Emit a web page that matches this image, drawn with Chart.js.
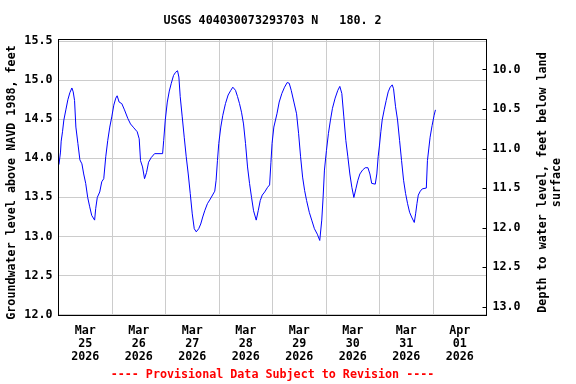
<!DOCTYPE html>
<html>
<head>
<meta charset="utf-8">
<script src="https://cdn.jsdelivr.net/npm/chart.js@4.4.1/dist/chart.umd.min.js"></script>
<style>
html, body { margin: 0; padding: 0; background: #fff; }
</style>
</head>
<body>
<canvas id="gwChart" width="576" height="384"></canvas>
<script>
// hours since Mar 25 2026 00:00
const hours = [
  0.2, 0.9, 1.2, 1.8, 2.4, 3.3, 4.2, 5.1, 6.0, 6.6, 7.2, 7.8, 8.7, 9.6, 10.5, 11.3, 12.2, 13.1, 14.0, 14.9,
  16.2, 16.7, 17.4, 18.5, 19.4, 20.3, 21.2, 22.1, 23.0, 23.9, 24.8, 25.7, 26.3, 27.2, 28.4, 29.6, 31.1, 32.3,
  33.8, 35.3, 36.2, 36.8, 37.7, 38.6, 39.5, 40.4, 41.6, 43.1, 46.7, 47.2, 47.9, 48.8, 49.7, 50.6, 51.6, 52.5,
  53.4, 54.0, 54.6, 55.5, 56.4, 57.3, 58.2, 59.1, 60.0, 60.9, 61.8, 62.9, 63.8, 64.7, 65.6, 66.8, 68.1, 70.1,
  70.7, 71.3, 71.9, 72.8, 73.7, 74.9, 76.1, 77.3, 78.2, 79.4, 80.3, 81.2, 82.1, 83.0, 83.9, 84.8, 85.7, 86.6,
  87.5, 88.7, 89.6, 90.5, 91.4, 92.5, 93.8, 94.7, 95.3, 95.8, 96.6, 98.0, 99.0, 100.2, 101.4, 102.6, 103.5,
  104.4, 105.6, 106.8, 107.7, 108.6, 109.5, 110.4, 111.3, 112.5, 113.6, 114.8, 116.1, 117.2, 118.1, 118.7,
  119.3, 120.2, 121.1, 122.0, 122.9, 124.1, 125.3, 126.2, 127.1, 128.0, 128.9, 129.8, 130.7, 131.6, 132.5,
  133.4, 134.3, 135.2, 136.4, 137.6, 138.8, 139.7, 140.5, 142.1, 142.8, 143.4, 144.0, 144.6, 145.2, 146.1,
  147.0, 147.9, 148.8, 149.7, 150.3, 151.2, 152.1, 153.0, 153.9, 154.8, 155.7, 156.6, 157.5, 158.4, 159.6,
  160.2, 160.8, 161.4, 162.3, 163.2, 165.0, 165.5, 166.1, 166.7, 167.6, 168.5, 169.1
];
const levels = [
  13.92, 14.08, 14.22, 14.34, 14.49, 14.62, 14.75, 14.84, 14.90, 14.85, 14.74, 14.40, 14.19, 13.98, 13.93, 13.80, 13.68, 13.50, 13.38, 13.27,
  13.21, 13.36, 13.50, 13.57, 13.70, 13.74, 14.02, 14.23, 14.40, 14.53, 14.68, 14.77, 14.80, 14.72, 14.70, 14.62, 14.51, 14.44,
  14.39, 14.34, 14.25, 13.97, 13.89, 13.74, 13.82, 13.95, 14.01, 14.06, 14.06, 14.23, 14.49, 14.72, 14.86, 14.96, 15.06, 15.10,
  15.12, 15.04, 14.79, 14.53, 14.27, 14.02, 13.80, 13.55, 13.29, 13.10, 13.06, 13.10, 13.16, 13.25, 13.33, 13.42, 13.48, 13.58,
  13.72, 13.97, 14.19, 14.40, 14.55, 14.70, 14.81, 14.87, 14.91, 14.87, 14.79, 14.70, 14.59, 14.44, 14.19, 13.89, 13.68, 13.50,
  13.33, 13.21, 13.33, 13.46, 13.53, 13.57, 13.63, 13.66, 13.95, 14.19, 14.40, 14.57, 14.72, 14.83, 14.91, 14.97, 14.96,
  14.87, 14.72, 14.57, 14.32, 14.02, 13.76, 13.59, 13.46, 13.31, 13.21, 13.10, 13.03, 12.95, 13.21, 13.50,
  13.85, 14.10, 14.32, 14.49, 14.64, 14.77, 14.87, 14.92, 14.83, 14.53, 14.23, 14.02, 13.80, 13.63, 13.50,
  13.61, 13.72, 13.80, 13.85, 13.88, 13.88, 13.80, 13.68, 13.67, 13.80, 14.02, 14.17, 14.34, 14.49, 14.62,
  14.74, 14.85, 14.91, 14.94, 14.89, 14.66, 14.49, 14.23, 13.97, 13.72, 13.55, 13.42, 13.31, 13.25, 13.18,
  13.29, 13.42, 13.53, 13.58, 13.61, 13.62, 13.97, 14.12, 14.27, 14.42, 14.55, 14.62
];

const dayLabels = [
  ['Mar', '25', '2026'], ['Mar', '26', '2026'], ['Mar', '27', '2026'], ['Mar', '28', '2026'],
  ['Mar', '29', '2026'], ['Mar', '30', '2026'], ['Mar', '31', '2026'], ['Apr', '01', '2026']
];
const levelTicks = [12.0, 12.5, 13.0, 13.5, 14.0, 14.5, 15.0, 15.5];
const depthTicks = [10.0, 10.5, 11.0, 11.5, 12.0, 12.5, 13.0];

const chartTitle = 'USGS 404030073293703 N   180. 2';
const leftTitle = 'Groundwater level above NAVD 1988, feet';
const rightTitle = ['Depth to water level, feet below land', 'surface'];
const footNote = '---- Provisional Data Subject to Revision ----';

const FONT = '"DejaVu Sans Mono", "Liberation Mono", monospace';
const GRID = '#cccccc';

// x ticks every 12 h: midnight gets a grid line, noon gets the date label
const xTickHours = [];
for (let h = 0; h <= 192; h += 12) xTickHours.push(h);

const framePlugin = {
  id: 'usgsFrame',
  beforeDraw(chart) {
    const c = chart.ctx;
    c.save();
    c.fillStyle = '#fff';
    c.fillRect(0, 0, chart.width, chart.height);
    c.restore();
  },
  afterDraw(chart) {
    const c = chart.ctx;
    const a = chart.chartArea;
    const y2 = chart.scales.y2;
    c.save();
    c.strokeStyle = '#000';
    c.lineWidth = 1;
    c.strokeRect(a.left, a.top, a.right - a.left, a.bottom - a.top);

    // small inward ticks on the depth axis
    c.beginPath();
    depthTicks.forEach(v => {
      const py = Math.round(y2.getPixelForValue(v)) + 0.5;
      c.moveTo(a.right - 4, py);
      c.lineTo(a.right, py);
    });
    c.stroke();

    c.fillStyle = '#000';
    c.font = 'bold 11.7px ' + FONT;
    c.textAlign = 'center';
    c.textBaseline = 'middle';
    const cx = (a.left + a.right) / 2;
    c.fillText(chartTitle, cx, 21);

    c.fillStyle = '#ff0000';
    c.fillText(footNote, cx, 375);

    c.fillStyle = '#000';
    c.save();
    c.translate(12, 182.5);
    c.rotate(-Math.PI / 2);
    c.fillText(leftTitle, 0, 0);
    c.restore();

    c.save();
    c.translate(543, 182.5);
    c.rotate(-Math.PI / 2);
    rightTitle.forEach((line, i) => c.fillText(line, 0, i * 14));
    c.restore();
    c.restore();
  }
};

new Chart(document.getElementById('gwChart'), {
  type: 'line',
  data: {
    datasets: [{
      data: hours.map((h, i) => ({ x: h, y: levels[i] })),
      borderColor: '#0000ff',
      borderWidth: 1,
      pointRadius: 0,
      tension: 0,
      fill: false
    }]
  },
  options: {
    responsive: false,
    animation: false,
    devicePixelRatio: 1,
    layout: { padding: { top: 39.5, left: 0, right: 0, bottom: 0 } },
    plugins: {
      legend: { display: false },
      tooltip: { enabled: false },
      title: { display: false }
    },
    scales: {
      x: {
        type: 'linear',
        min: 0,
        max: 192,
        afterBuildTicks: s => { s.ticks = xTickHours.map(v => ({ value: v })); },
        afterFit: s => { s.height = 68.5; },
        border: { display: false },
        grid: {
          drawTicks: false,
          color: ctx => (ctx.tick && ctx.tick.value % 24 === 0) ? GRID : 'rgba(0,0,0,0)',
          lineWidth: 1
        },
        ticks: {
          autoSkip: false,
          maxRotation: 0,
          padding: 9.5,
          color: '#000',
          font: { family: FONT, size: 11.7, weight: 'bold', lineHeight: 1.1 },
          callback: v => (v % 24 === 12) ? dayLabels[(v - 12) / 24] : ''
        }
      },
      y: {
        position: 'left',
        min: 11.99,
        max: 15.52,
        afterBuildTicks: s => { s.ticks = levelTicks.map(v => ({ value: v })); },
        afterFit: s => { s.width = 58.5; },
        border: { display: false },
        grid: { drawTicks: false, color: GRID, lineWidth: 1 },
        ticks: {
          padding: 6,
          color: '#000',
          font: { family: FONT, size: 11.7, weight: 'bold' },
          callback: v => v.toFixed(1)
        }
      },
      y2: {
        position: 'right',
        reverse: true,
        min: 9.621,
        max: 13.111,
        afterBuildTicks: s => { s.ticks = depthTicks.map(v => ({ value: v })); },
        afterFit: s => { s.width = 89.5; },
        border: { display: false },
        grid: { display: false, drawTicks: false },
        ticks: {
          padding: 6,
          color: '#000',
          font: { family: FONT, size: 11.7, weight: 'bold' },
          callback: v => v.toFixed(1)
        }
      }
    }
  },
  plugins: [framePlugin]
});
</script>
</body>
</html>
